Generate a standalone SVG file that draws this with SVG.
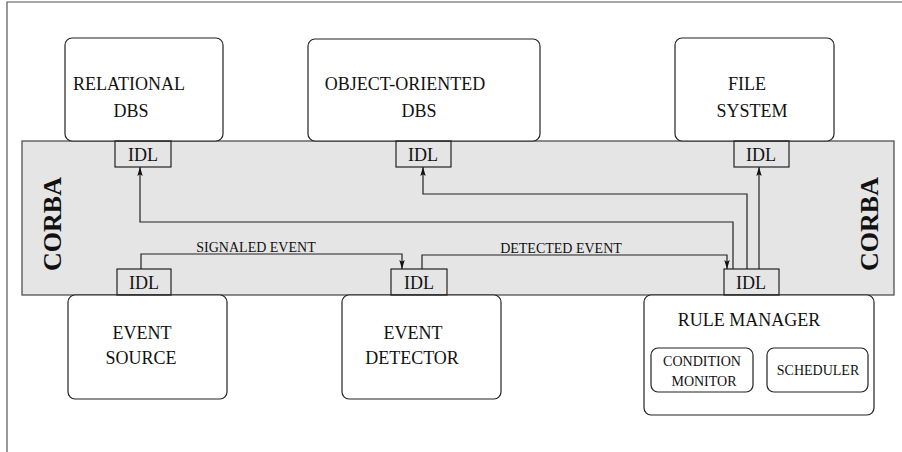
<svg xmlns="http://www.w3.org/2000/svg" width="902" height="452" viewBox="0 0 902 452">
<style>
.box{fill:#fff;stroke:#222;stroke-width:1.2}
.idl{fill:none;stroke:#222;stroke-width:1.2}
.t{font-family:"Liberation Serif","Times New Roman",serif;font-size:18px;fill:#111;text-anchor:middle}
.s{font-size:14px}
.c{font-family:"Liberation Serif","Times New Roman",serif;font-size:26px;font-weight:bold;fill:#111;text-anchor:middle}
.ln{fill:none;stroke:#222;stroke-width:1.2}
</style>
<defs>
<marker id="ah" viewBox="0 0 10 10" refX="10" refY="5" markerWidth="9" markerHeight="9" markerUnits="userSpaceOnUse" orient="auto">
<path d="M0,2 L10,5 L0,8 L2,5 Z" fill="#111"/>
</marker>
</defs>
<rect width="902" height="452" fill="#fff"/>
<g id="frame"><path d="M7,452 V2 H902" fill="none" stroke="#555" stroke-width="1.2"/></g>
<g id="corba">
<rect x="22" y="141" width="872" height="154" fill="#e5e5e5" stroke="#444" stroke-width="1.2"/>
<text class="c" transform="translate(61,224) rotate(-90)">CORBA</text>
<text class="c" transform="translate(878,224) rotate(-90)">CORBA</text>
</g>
<g id="relational-dbs">
<rect class="box" x="65" y="38" width="158" height="103" rx="7"/>
<text class="t" x="129" y="90">RELATIONAL</text>
<text class="t" x="131" y="117">DBS</text>
<rect class="idl" x="115" y="141" width="56" height="26"/>
<text class="t" x="143" y="161">IDL</text>
</g>
<g id="oo-dbs">
<rect class="box" x="308" y="39" width="232" height="102" rx="7"/>
<text class="t" x="405" y="90">OBJECT-ORIENTED</text>
<text class="t" x="419" y="117">DBS</text>
<rect class="idl" x="396" y="141" width="55" height="26"/>
<text class="t" x="423" y="161">IDL</text>
</g>
<g id="file-system">
<rect class="box" x="675" y="38" width="159" height="103" rx="7"/>
<text class="t" x="747" y="90">FILE</text>
<text class="t" x="752" y="117">SYSTEM</text>
<rect class="idl" x="734" y="141" width="55" height="26"/>
<text class="t" x="761" y="161">IDL</text>
</g>
<g id="event-source">
<rect class="box" x="68" y="295" width="159" height="104" rx="7"/>
<text class="t" x="142" y="339">EVENT</text>
<text class="t" x="141" y="364">SOURCE</text>
<rect class="idl" x="117" y="269" width="54" height="26"/>
<text class="t" x="144" y="289">IDL</text>
</g>
<g id="event-detector">
<rect class="box" x="342" y="295" width="159" height="104" rx="7"/>
<text class="t" x="413" y="339">EVENT</text>
<text class="t" x="412" y="364">DETECTOR</text>
<rect class="idl" x="391" y="269" width="56" height="26"/>
<text class="t" x="419" y="289">IDL</text>
</g>
<g id="rule-manager">
<rect class="box" x="644" y="295" width="230" height="120" rx="7"/>
<text class="t" x="749" y="326">RULE MANAGER</text>
<rect class="idl" x="724" y="269" width="55" height="26"/>
<text class="t" x="751" y="289">IDL</text>
<g id="condition-monitor">
<rect class="box" x="651" y="348" width="102" height="44" rx="7"/>
<text class="t s" x="702" y="366">CONDITION</text>
<text class="t s" x="704" y="386">MONITOR</text>
</g>
<g id="scheduler">
<rect class="box" x="767" y="348" width="101" height="44" rx="7"/>
<text class="t s" x="818" y="375">SCHEDULER</text>
</g>
</g>
<g id="connectors">
<path class="ln" d="M733,269 V222 H140 V167" marker-end="url(#ah)"/>
<path class="ln" d="M747,269 V194 H423 V167" marker-end="url(#ah)"/>
<path class="ln" d="M759,269 V167" marker-end="url(#ah)"/>
<path class="ln" d="M141,269 V254 H402 V269" marker-end="url(#ah)"/>
<path class="ln" d="M422,269 V255 H727 V269" marker-end="url(#ah)"/>
<text class="t s" x="256" y="252">SIGNALED EVENT</text>
<text class="t s" x="561" y="253">DETECTED EVENT</text>
</g>
</svg>
